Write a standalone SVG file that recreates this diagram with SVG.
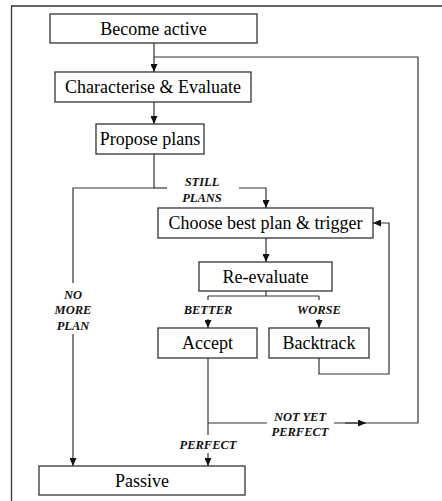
<svg xmlns="http://www.w3.org/2000/svg" width="442" height="501" viewBox="0 0 442 501">
<style>
.box{fill:#fff;stroke:#333;stroke-width:1.3}
.t{font-family:"Liberation Serif","Times New Roman",serif;font-size:18px;fill:#000;text-anchor:middle}
.l{font-family:"Liberation Serif","Times New Roman",serif;font-size:12.5px;font-weight:bold;font-style:italic;fill:#111;text-anchor:middle}
.c{fill:none;stroke:#333;stroke-width:1.2}
</style>
<defs>
<marker id="ah" markerUnits="userSpaceOnUse" markerWidth="8" markerHeight="7" refX="8" refY="3.5" orient="auto">
<path d="M0,0 L8,3.5 L0,7 z" fill="#111"/>
</marker>
</defs>
<rect width="442" height="501" fill="#fff"/>
<path d="M11.5,501 V6 H442" fill="none" stroke="#333" stroke-width="1.3"/>
<g id="connectors">
<path class="c" d="M154,43 V72" marker-end="url(#ah)"/>
<path class="c" d="M154,102 V124" marker-end="url(#ah)"/>
<path class="c" d="M154,154 V188 H73 V283"/>
<path class="c" d="M73,334 V466" marker-end="url(#ah)"/>
<path class="c" d="M154,188 H167"/>
<path class="c" d="M239,188 H266 V208" marker-end="url(#ah)"/>
<path class="c" d="M266,238 V262" marker-end="url(#ah)"/>
<path class="c" d="M266,291 V296 M208,296 H319 M208,296 V300 M319,296 V300"/>
<path class="c" d="M208,319 V328" marker-end="url(#ah)"/>
<path class="c" d="M319,319 V328" marker-end="url(#ah)"/>
<path class="c" d="M319,358 V374 H389 V223 H373" marker-end="url(#ah)"/>
<path class="c" d="M208,358 V435"/>
<path class="c" d="M208,453 V466" marker-end="url(#ah)"/>
<path class="c" d="M208,423 H267"/>
<path class="c" d="M334,423 H418 V57 H154"/>
<path class="c" d="M345,423 H366" marker-end="url(#ah)"/>
<text class="l" x="202" y="186">STILL</text>
<text class="l" x="202" y="202">PLANS</text>
<text class="l" x="73" y="299">NO</text>
<text class="l" x="73" y="314">MORE</text>
<text class="l" x="73" y="330">PLAN</text>
<text class="l" x="208" y="314">BETTER</text>
<text class="l" x="319" y="314">WORSE</text>
<text class="l" x="300" y="421">NOT YET</text>
<text class="l" x="300" y="436">PERFECT</text>
<text class="l" x="208" y="449">PERFECT</text>
</g>
<g id="become-active"><rect class="box" x="50" y="14" width="207" height="29"/><text class="t" x="153.5" y="35">Become active</text></g>
<g id="characterise"><rect class="box" x="55" y="72" width="196" height="30"/><text class="t" x="153" y="93">Characterise &amp; Evaluate</text></g>
<g id="propose-plans"><rect class="box" x="96" y="124" width="108" height="30"/><text class="t" x="150" y="145">Propose plans</text></g>
<g id="choose-best"><rect class="box" x="158" y="208" width="215" height="30"/><text class="t" x="265.5" y="229">Choose best plan &amp; trigger</text></g>
<g id="re-evaluate"><rect class="box" x="199" y="262" width="133" height="29"/><text class="t" x="265.5" y="283">Re-evaluate</text></g>
<g id="accept"><rect class="box" x="158" y="328" width="99" height="30"/><text class="t" x="207.5" y="349">Accept</text></g>
<g id="backtrack"><rect class="box" x="269" y="328" width="100" height="30"/><text class="t" x="319" y="349">Backtrack</text></g>
<g id="passive"><rect class="box" x="39" y="466" width="206" height="29"/><text class="t" x="142" y="487">Passive</text></g>
</svg>
